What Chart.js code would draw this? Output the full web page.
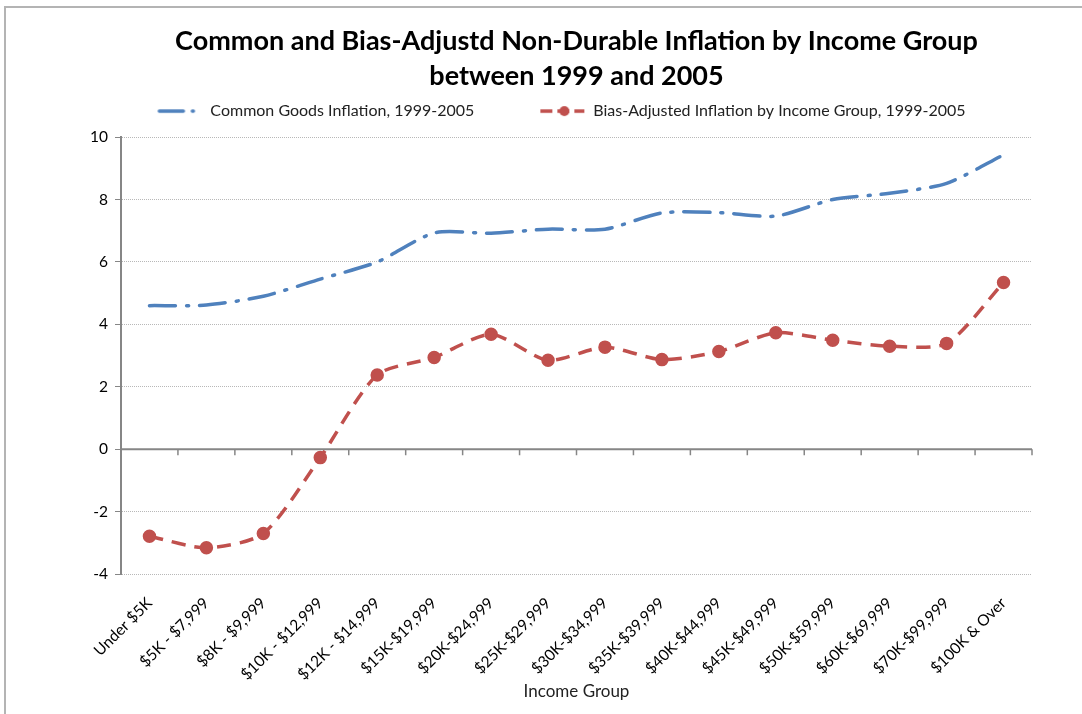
<!DOCTYPE html>
<html>
<head>
<meta charset="utf-8">
<script src="https://cdn.jsdelivr.net/npm/chart.js@4.4.1/dist/chart.umd.min.js"></script>
<style>
  html, body { margin: 0; padding: 0; background: #fff; overflow: hidden; }
  #wrap { position: relative; width: 1082px; height: 714px; overflow: hidden; }
  #frame { position: absolute; left: 4px; top: 6px; width: 1090px; height: 720px; border: 2px solid #b4b4b4; pointer-events: none; }
</style>
</head>
<body>
<div id="wrap">
  <canvas id="inflationChart" width="1082" height="714"></canvas>
  <div id="frame"></div>
</div>
<script>
// income groups along the x axis
const incomeGroups = [
    'Under $5K', '$5K - $7,999', '$8K - $9,999', '$10K - $12,999', '$12K - $14,999',
    '$15K-$19,999', '$20K-$24,999', '$25K-$29,999', '$30K-$34,999', '$35K-$39,999',
    '$40K-$44,999', '$45K-$49,999', '$50K-$59,999', '$60K-$69,999', '$70K-$99,999',
    '$100K & Over'
];

// values
const commonGoods = [4.6, 4.62, 4.9, 5.45, 6.0, 6.93, 6.92, 7.05, 7.05, 7.57, 7.58, 7.47, 8.0, 8.2, 8.52, 9.43];
const biasAdjusted = [-2.79, -3.16, -2.7, -0.27, 2.38, 2.94, 3.68, 2.85, 3.27, 2.87, 3.13, 3.73, 3.49, 3.3, 3.39, 5.34];

const yTicks = [-4, -2, 0, 2, 4, 6, 8, 10];

const blue = '#4F81BD';
const red = '#C0504D';
const font = 'Lato, "Liberation Sans", sans-serif';

// little legend samples
function blueSample() {
    const c = document.createElement('canvas');
    c.width = 46; c.height = 8;
    const g = c.getContext('2d');
    g.strokeStyle = blue; g.lineWidth = 3.5; g.lineCap = 'round';
    g.setLineDash([24, 9, 1, 20]);
    g.beginPath(); g.moveTo(3, 4); g.lineTo(44, 4); g.stroke();
    return c;
}
function redSample() {
    const c = document.createElement('canvas');
    c.width = 46; c.height = 12;
    const g = c.getContext('2d');
    g.strokeStyle = red; g.lineWidth = 3.5;
    g.setLineDash([12, 5]);
    g.beginPath(); g.moveTo(1, 6); g.lineTo(45, 6); g.stroke();
    g.fillStyle = red;
    g.beginPath(); g.arc(25, 6, 5, 0, Math.PI * 2); g.fill();
    return c;
}
const legendImages = [blueSample(), redSample()];

// solid zero line with tick marks between the categories
const zeroAxis = {
    id: 'zeroAxis',
    afterDatasetsDraw(chart) {
        const ctx = chart.ctx;
        const x = chart.scales.x;
        const y0 = chart.scales.y.getPixelForValue(0);
        const area = chart.chartArea;
        ctx.save();
        ctx.strokeStyle = '#868686';
        ctx.lineWidth = 2;
        ctx.beginPath();
        ctx.moveTo(area.left, y0);
        ctx.lineTo(area.right, y0);
        ctx.stroke();
        ctx.lineWidth = 1.5;
        ctx.beginPath();
        for (let i = 0; i < incomeGroups.length; i++) {
            const bx = i < incomeGroups.length - 1
                ? (x.getPixelForValue(i) + x.getPixelForValue(i + 1)) / 2
                : area.right;
            ctx.moveTo(bx, y0);
            ctx.lineTo(bx, y0 + 6);
        }
        ctx.stroke();
        ctx.restore();
    }
};

let inflationChart = new Chart(document.getElementById('inflationChart'), {
    type: 'line',
    data: {
        labels: incomeGroups,
        datasets: [{
            label: 'Common Goods Inflation, 1999-2005',
            data: commonGoods,
            borderColor: blue,
            backgroundColor: blue,
            borderWidth: 3.5,
            borderDash: [26, 11, 2, 11],
            borderCapStyle: 'round',
            pointRadius: 0,
            tension: 0.25,
            fill: false
        }, {
            label: 'Bias-Adjusted Inflation by Income Group, 1999-2005',
            data: biasAdjusted,
            borderColor: red,
            backgroundColor: red,
            borderWidth: 3.5,
            borderDash: [14, 9],
            pointRadius: 5,
            pointBackgroundColor: red,
            pointBorderColor: red,
            tension: 0.25,
            fill: false
        }]
    },
    options: {
        responsive: false,
        animation: false,
        layout: {
            padding: { left: 90, right: 50, top: 0, bottom: 0 }
        },
        plugins: {
            title: {
                display: true,
                fullSize: false,
                text: ['Common and Bias-Adjustd Non-Durable Inflation by Income Group', 'between 1999 and 2005'],
                color: '#000',
                font: { family: font, size: 27, weight: 'bold', lineHeight: 1.28 },
                padding: { top: 24, bottom: -55 }
            },
            // empty spacer between legend and plot
            subtitle: {
                display: true,
                text: '',
                weight: 500,
                font: { size: 1, lineHeight: 1 },
                padding: { top: 0, bottom: 7 }
            },
            legend: {
                display: true,
                labels: {
                    color: '#222',
                    font: { family: font, size: 16 },
                    usePointStyle: true,
                    pointStyleWidth: 46,
                    boxHeight: 12,
                    padding: 65,
                    generateLabels(chart) {
                        return chart.data.datasets.map((ds, i) => ({
                            text: ds.label,
                            fontColor: '#222',
                            pointStyle: legendImages[i],
                            hidden: false,
                            datasetIndex: i,
                            lineWidth: 0,
                            strokeStyle: 'transparent',
                            fillStyle: 'transparent'
                        }));
                    }
                }
            },
            tooltip: { enabled: false }
        },
        scales: {
            x: {
                offset: true,
                grid: { display: false },
                border: { display: false },
                ticks: {
                    color: '#000',
                    font: { family: font, size: 15.5 },
                    minRotation: 45,
                    maxRotation: 45,
                    autoSkip: false,
                    padding: 12
                },
                title: {
                    display: true,
                    text: 'Income Group',
                    color: '#222',
                    font: { family: font, size: 17 },
                    padding: { top: 0, bottom: 12 }
                },
                afterFit(scale) { scale.height = 140; }
            },
            y: {
                min: -4,
                max: 10,
                afterBuildTicks(scale) {
                    scale.ticks = yTicks.map(v => ({ value: v }));
                },
                grid: {
                    color: ctx => ctx.tick && ctx.tick.value === 0 ? 'rgba(0,0,0,0)' : '#b8b8b8',
                    lineWidth: 1,
                    tickLength: 6,
                    tickColor: '#868686',
                    drawTicks: true
                },
                border: { display: true, color: '#868686', width: 2, dash: [1, 1] },
                ticks: {
                    color: '#000',
                    font: { family: font, size: 15.5 },
                    padding: 7
                },
                afterFit(scale) { scale.width = 31; }
            }
        }
    },
    plugins: [zeroAxis]
});
</script>
</body>
</html>
